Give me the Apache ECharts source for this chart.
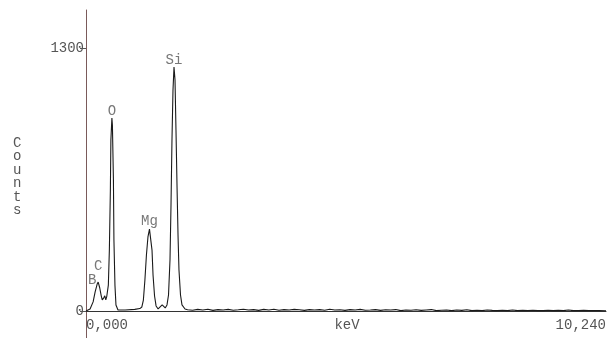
<!DOCTYPE html>
<html>
<head>
<meta charset="utf-8">
<script src="https://cdn.jsdelivr.net/npm/echarts@6/dist/echarts.min.js"></script>
<style>
html,body{margin:0;padding:0;background:#fff;}
#c{width:608px;height:338px;}
</style>
</head>
<body>
<div id="c"></div>
<script>
// ---- data ----
const energy = [0, 0.08, 0.14, 0.18, 0.22, 0.24, 0.27, 0.30, 0.32, 0.35, 0.37, 0.39,
  0.41, 0.44, 0.46, 0.48, 0.49, 0.51, 0.52, 0.54, 0.55, 0.57, 0.59, 0.63, 0.77, 0.96,
  1.06, 1.10, 1.13, 1.16, 1.19, 1.22, 1.25, 1.27, 1.30, 1.32, 1.35, 1.38, 1.42, 1.50, 1.56,
  1.595, 1.625, 1.654, 1.674, 1.693, 1.713, 1.733, 1.753, 1.772, 1.792, 1.812, 1.831, 1.861, 1.89, 1.95,
  2.0, 2.1, 2.2, 2.3, 2.4, 2.5, 2.6, 2.7, 2.8, 2.9,
  3.0, 3.1, 3.2, 3.3, 3.4, 3.5, 3.6, 3.7, 3.8, 3.9,
  4.0, 4.1, 4.2, 4.3, 4.4, 4.5, 4.6, 4.7, 4.8, 4.9,
  5.0, 5.1, 5.2, 5.3, 5.4, 5.5, 5.6, 5.7, 5.8, 5.9,
  6.0, 6.1, 6.2, 6.3, 6.4, 6.5, 6.6, 6.7, 6.8, 6.9,
  7.0, 7.1, 7.2, 7.3, 7.4, 7.5, 7.6, 7.7, 7.8, 7.9,
  8.0, 8.1, 8.2, 8.3, 8.4, 8.5, 8.6, 8.7, 8.8, 8.9,
  9.0, 9.1, 9.2, 9.3, 9.4, 9.5, 9.6, 9.7, 9.8, 9.9,
  10.0, 10.1, 10.24];
const counts = [0, 10, 45, 95, 133, 143, 115, 75, 55, 65, 75, 55,
  74, 128, 301, 598, 845, 954, 919, 648, 351, 128, 30, 5, 5, 8,
  12, 20, 54, 153, 277, 366, 405, 400, 301, 178, 74, 25, 10, 30, 15,
  30, 79, 252, 524, 845, 1092, 1206, 1142, 895, 623, 376, 203, 79, 30, 10,
  6, 4, 8, 5, 9, 3, 7, 5, 8, 4,
  6, 9, 5, 7, 3, 8, 5, 9, 4, 7,
  5, 8, 6, 3, 7, 5, 7, 4, 9, 5,
  6, 3, 7, 5, 8, 4, 5, 7, 3, 6,
  5, 7, 2, 5, 4, 6, 3, 5, 7, 2,
  4, 5, 2, 5, 3, 6, 2, 4, 2, 5,
  3, 2, 4, 2, 5, 2, 3, 2, 4, 2,
  2, 4, 2, 3, 2, 5, 2, 2, 3, 2,
  2, 2, 1];
const peakNames = ['B', 'C', 'O', 'Mg', 'Si'];
const peakEnergies = [0.18, 0.24, 0.51, 1.25, 1.733];
const peakCounts = [95, 143, 954, 405, 1206];
const yTickValues = [0, 1300];
const yTickLabels = ['0', '1300'];
const xTickValues = [0, 10.24];
const xTickLabels = ['0,000', '10,240'];
const xName = 'keV';
const yName = 'Counts';

// ---- styles ----
const labelOffsets = [[-3, -11], [0, -16], [0, -7], [0, -8], [0, -7]];
const FONT = 'Liberation Mono';
const TXT = '#555555';
const FS = 14;

const chart = echarts.init(document.getElementById('c'), null, {renderer: 'canvas'});
const lineData = energy.map((e, i) => [e, counts[i]]);
const peakData = peakNames.map((n, i) => ({
  value: [peakEnergies[i], peakCounts[i]],
  name: n,
  label: {offset: labelOffsets[i]}
}));

chart.setOption({
  animation: false,
  backgroundColor: '#fff',
  grid: {left: 86, right: 2, top: 10, bottom: 27, containLabel: false, outerBoundsMode: 'none'},
  xAxis: {
    type: 'value', min: 0, max: 10.24,
    axisLine: {show: true, lineStyle: {color: '#333', width: 1}},
    axisTick: {show: false},
    splitLine: {show: false},
    axisLabel: {
      customValues: xTickValues,
      formatter: v => xTickLabels[xTickValues.indexOf(v)] ?? '',
      fontFamily: FONT, fontSize: FS, color: TXT, margin: 7,
      alignMinLabel: 'left', alignMaxLabel: 'right'
    }
  },
  yAxis: {
    type: 'value', min: 0, max: 1488,
    axisLine: {show: true, lineStyle: {color: '#7a5a5a', width: 1}},
    axisTick: {show: true, customValues: yTickValues, length: 6, lineStyle: {color: '#555'}},
    splitLine: {show: false},
    axisLabel: {
      customValues: yTickValues,
      formatter: v => yTickLabels[yTickValues.indexOf(v)] ?? '',
      fontFamily: FONT, fontSize: FS, color: TXT, margin: 2
    }
  },
  graphic: [
    {type: 'line', shape: {x1: 86.5, y1: 311, x2: 86.5, y2: 338}, style: {stroke: '#7a5a5a', lineWidth: 1}, silent: true},
    {type: 'text', left: 13, top: 136, style: {text: yName.split('').join('\n'), font: FS + 'px ' + FONT, fill: TXT, lineHeight: 13.5}},
    {type: 'text', x: 347, y: 325, style: {text: xName, font: FS + 'px ' + FONT, fill: TXT, align: 'center', verticalAlign: 'middle'}}
  ],
  series: [
    {
      type: 'line', data: lineData, symbol: 'none', smooth: false,
      lineStyle: {color: '#1a1a1a', width: 1.1}
    },
    {
      type: 'scatter', data: peakData, symbolSize: 0,
      label: {show: true, position: 'inside', formatter: p => p.name,
        fontFamily: FONT, fontSize: FS, color: TXT}
    }
  ]
});
</script>
</body>
</html>
